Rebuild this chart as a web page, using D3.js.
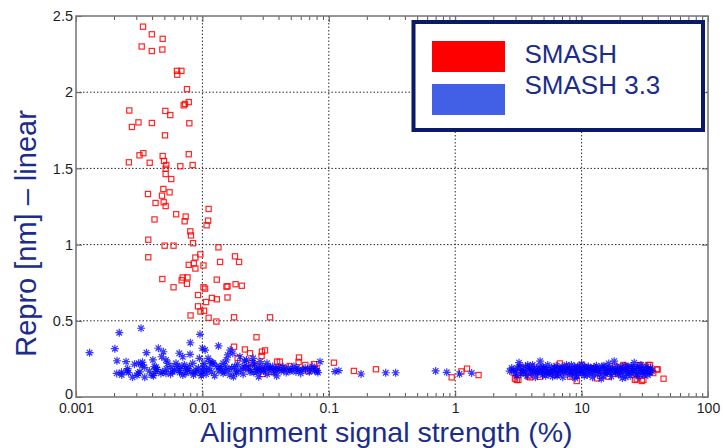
<!DOCTYPE html>
<html>
<head>
<meta charset="utf-8">
<script src="https://cdn.jsdelivr.net/npm/d3@7"></script>
<style>
  html, body { margin: 0; padding: 0; background: #ffffff; }
  svg { display: block; }
</style>
</head>
<body>
<svg id="chart" width="723" height="448"></svg>
<script>
// Axis ticks and labels
const xTicks = [0.001, 0.01, 0.1, 1, 10, 100];
const xTickLabels = ["0.001", "0.01", "0.1", "1", "10", "100"];
const yTicks = [0, 0.5, 1, 1.5, 2, 2.5];
const yTickLabels = ["0", "0.5", "1", "1.5", "2", "2.5"];
const xTitle = "Alignment signal strength (%)";
const yTitle = "Repro [nm] \u2013 linear";

// Series
const seriesNames = ["SMASH", "SMASH 3.3"];
const seriesColors = ["#ff0000", "#0000ff"];
const legendSwatchColors = ["#ff0000", "#4160e6"];

// SMASH: [signal strength %, repro nm]
const smashPoints = [
  [0.00339,2.43],[0.00398,2.38],[0.00485,2.35],[0.00331,2.30],[0.00398,2.27],[0.00482,2.28],
  [0.00629,2.14],[0.00682,2.14],[0.00632,2.115],[0.00755,2.02],[0.0078,1.935],[0.00711,1.914],
  [0.00728,1.923],[0.00264,1.88],[0.00509,1.877],[0.00557,1.85],[0.00277,1.772],[0.00312,1.802],
  [0.00398,1.798],[0.00788,1.796],[0.00506,1.717],[0.00341,1.60],[0.00318,1.586],[0.00262,1.54],
  [0.00383,1.537],[0.00485,1.581],[0.00497,1.549],[0.00518,1.522],[0.00512,1.498],[0.00669,1.514],
  [0.0078,1.593],[0.00837,1.522],[0.00512,1.463],[0.00567,1.43],[0.00371,1.332],[0.00491,1.365],
  [0.00479,1.321],[0.0055,1.343],[0.00426,1.273],[0.00494,1.278],[0.00512,1.253],[0.0112,1.234],
  [0.0062,1.199],[0.00737,1.184],[0.00418,1.165],[0.00724,1.153],[0.0111,1.157],[0.0108,1.127],
  [0.00802,1.087],[0.00812,1.06],[0.00843,1.009],[0.00373,1.032],[0.00503,0.993],[0.00591,0.993],
  [0.00373,0.917],[0.00963,0.936],[0.0088,0.915],[0.00855,0.877],[0.0078,0.867],[0.0088,0.843],
  [0.0102,0.863],[0.0134,0.982],[0.0138,0.886],[0.0181,0.923],[0.0195,0.886],[0.00482,0.774],
  [0.00591,0.72],[0.00699,0.784],[0.00686,0.766],[0.00755,0.743],[0.00762,0.785],[0.013,0.77],
  [0.0102,0.72],[0.0105,0.711],[0.0155,0.724],[0.0158,0.727],[0.0183,0.74],[0.0205,0.73],
  [0.0158,0.653],[0.00923,0.669],[0.0107,0.623],[0.0119,0.65],[0.013,0.641],[0.00923,0.595],
  [0.00966,0.561],[0.0103,0.566],[0.00806,0.535],[0.0112,0.52],[0.0129,0.495],[0.0178,0.523],
  [0.0343,0.523],[0.0268,0.392],[0.0178,0.33],[0.0217,0.312],[0.0238,0.287],[0.0296,0.297],
  [0.0313,0.306],[0.0294,0.269],[0.0581,0.259],[0.0577,0.23],[0.0652,0.21],[0.0688,0.169],
  [0.0764,0.215],[0.08,0.188],[0.1098,0.225],[0.158,0.171],[0.236,0.182],[0.938,0.129],
  [1.12,0.168],[1.24,0.186],[1.53,0.144],
  [0.027,0.2],[0.039,0.232],[0.041,0.232],[0.043,0.19],[0.049,0.203],[0.035,0.164],
  [0.030,0.151],[0.0221,0.19],[0.019,0.256],[0.0245,0.223],
  [2.97,0.12],[3.07,0.112],[3.16,0.112],[3.46,0.157],[3.79,0.135],[3.91,0.129],[4.03,0.199],
  [4.69,0.133],[5.13,0.177],[6.16,0.144],[6.75,0.22],[7.62,0.199],[7.85,0.177],[8.09,0.133],
  [8.6,0.166],[9.15,0.105],[10.0,0.21],[11.6,0.19],[13.2,0.122],[16.3,0.133],[18.4,0.199],
  [21.4,0.21],[22.0,0.2],[26.4,0.112],[27.3,0.116],[29.0,0.21],[29.9,0.105],[30.8,0.112],
  [33.7,0.21],[34.8,0.21],[34.8,0.166],[36.9,0.157],[39.3,0.182],[40.0,0.18],[44.5,0.12],
  [5.5,0.165],[9.5,0.18],[12.5,0.185],[14.5,0.17],[19.5,0.15],[24,0.19],[3.3,0.19],
  [6.4,0.185],[2.9,0.16]
];

// SMASH 3.3: [signal strength %, repro nm]
const smash33Points = [
  [0.00128,0.291],[0.0022,0.422],[0.00327,0.451],[0.00203,0.317],[0.00211,0.238],[0.00249,0.232],
  [0.00229,0.162],[0.00253,0.171],[0.00256,0.186],[0.00304,0.142],[0.0031,0.156],[0.0029,0.215],
  [0.00313,0.221],[0.00336,0.228],[0.00347,0.195],[0.00333,0.21],[0.00361,0.291],[0.00406,0.243],
  [0.00417,0.199],[0.00429,0.166],[0.004,0.144],[0.00448,0.32],[0.00491,0.297],[0.00476,0.264],
  [0.00515,0.243],[0.00532,0.221],[0.00564,0.199],[0.00582,0.166],[0.00485,0.166],[0.00515,0.156],
  [0.00656,0.287],[0.00699,0.264],[0.00798,0.28],[0.00802,0.356],[0.00957,0.411],[0.00999,0.32],
  [0.00618,0.221],[0.00677,0.199],[0.00741,0.188],[0.00812,0.166],[0.0089,0.177],[0.00975,0.156],
  [0.00947,0.254],[0.0103,0.221],[0.00838,0.221],[0.00656,0.177],[0.00741,0.156],[0.0134,0.335],
  [0.0105,0.308],[0.0166,0.308],[0.0174,0.287],[0.0111,0.254],[0.0115,0.232],[0.0122,0.221],
  [0.0102,0.199],[0.0108,0.177],[0.0138,0.199],[0.0146,0.221],[0.0155,0.243],[0.0159,0.276],
  [0.0146,0.156],[0.0165,0.144],[0.0176,0.133],[0.0186,0.156],[0.0198,0.264],[0.0223,0.243],
  [0.0252,0.254],[0.0286,0.232],[0.0324,0.221],[0.0209,0.197],[0.0238,0.164],[0.027,0.184],
  [0.0304,0.171],[0.0343,0.19],[0.0389,0.177],[0.0434,0.197],[0.0493,0.171],[0.056,0.19],
  [0.0624,0.177],[0.0707,0.184],[0.0807,0.171],[0.0279,0.133],[0.0387,0.138],[0.0852,0.232],
  [0.112,0.167],[0.12,0.173],[0.18,0.151],[0.282,0.159],[0.338,0.159],[0.70,0.171],
  [0.857,0.162],[1.08,0.151],[1.35,0.157],[0.0777,0.171],
  [0.0044,0.18],[0.0047,0.155],[0.0052,0.185],[0.0056,0.15],[0.006,0.175],[0.0063,0.2],
  [0.0066,0.16],[0.007,0.145],[0.0072,0.21],[0.0076,0.175],[0.0079,0.2],[0.0085,0.145],
  [0.0088,0.16],[0.0093,0.19],[0.0098,0.14],[0.0101,0.17],[0.0107,0.15],[0.0113,0.19],
  [0.0118,0.165],[0.0125,0.14],[0.0129,0.2],[0.0135,0.17],[0.014,0.185],[0.015,0.165],
  [0.0152,0.2],[0.016,0.18],[0.017,0.19],[0.018,0.2],[0.0185,0.17],[0.019,0.215],
  [0.02,0.175],[0.021,0.15],[0.022,0.19],[0.023,0.2],[0.024,0.18],[0.0255,0.16],
  [0.026,0.21],[0.027,0.165],[0.028,0.19],[0.029,0.17],[0.03,0.2],[0.031,0.18],
  [0.0325,0.15],[0.033,0.195],[0.035,0.175],[0.036,0.2],[0.037,0.16],[0.038,0.185],
  [0.04,0.195],[0.042,0.17],[0.044,0.18],[0.046,0.16],[0.048,0.19],[0.051,0.175],
  [0.053,0.2],[0.055,0.165],[0.058,0.18],[0.06,0.155],[0.065,0.19],[0.07,0.165],
  [0.074,0.2],[0.078,0.185],[0.082,0.16],[0.0215,0.235],[0.025,0.225],[0.012,0.225],
  [0.0021,0.155],[0.0023,0.145],[0.0026,0.16],[0.0028,0.13],[0.0032,0.165],[0.0035,0.13],
  [0.0038,0.17],[0.0041,0.14],[0.0043,0.195],
  [2.7,0.17],[2.9,0.175],[3.0,0.16],[3.1,0.19],[3.2,0.225],[3.3,0.15],[3.4,0.18],[3.5,0.165],
  [3.6,0.2],[3.7,0.14],[3.8,0.175],[3.9,0.19],[4.0,0.155],[4.1,0.21],[4.2,0.17],[4.3,0.13],
  [4.4,0.185],[4.5,0.16],[4.6,0.2],[4.7,0.235],[4.8,0.175],[4.9,0.145],[5.0,0.19],[5.1,0.165],
  [5.3,0.18],[5.4,0.21],[5.5,0.15],[5.6,0.17],[5.8,0.195],[5.9,0.135],[6.0,0.175],[6.2,0.16],
  [6.3,0.205],[6.5,0.185],[6.6,0.15],[6.8,0.17],[7.0,0.2],[7.1,0.13],[7.3,0.18],[7.5,0.16],
  [7.7,0.19],[7.9,0.175],[8.1,0.145],[8.3,0.21],[8.5,0.165],[8.7,0.185],[8.9,0.125],[9.1,0.17],
  [9.3,0.2],[9.5,0.155],[9.8,0.18],[10.0,0.215],[10.3,0.165],[10.5,0.14],[10.8,0.19],[11.0,0.175],
  [11.3,0.2],[11.6,0.155],[11.9,0.18],[12.2,0.13],[12.5,0.195],[12.8,0.17],[13.1,0.205],[13.4,0.15],
  [13.8,0.185],[14.1,0.165],[14.5,0.2],[14.9,0.14],[15.2,0.175],[15.6,0.19],[16.0,0.16],[16.4,0.22],
  [16.8,0.175],[17.2,0.135],[17.7,0.185],[18.1,0.235],[18.6,0.165],[19.0,0.2],[19.5,0.15],[20.0,0.18],
  [20.5,0.195],[21.0,0.125],[21.5,0.17],[22.0,0.205],[22.6,0.155],[23.1,0.185],[23.7,0.165],[24.3,0.14],
  [24.9,0.2],[25.5,0.175],[26.1,0.225],[26.8,0.16],[27.4,0.19],[28.1,0.135],[28.8,0.175],[29.5,0.21],
  [30.2,0.155],[31.0,0.185],[31.8,0.165],[32.6,0.2],[33.4,0.145],[34.2,0.175],[35.0,0.19],[36.0,0.17],
  [2.8,0.19],[3.05,0.14],[3.25,0.2],[3.45,0.165],[3.75,0.21],[4.05,0.18],[4.35,0.16],[4.65,0.17],
  [4.95,0.2],[5.2,0.14],[5.7,0.165],[6.1,0.19],[6.4,0.14],[6.9,0.185],[7.2,0.165],[7.6,0.21],
  [8.0,0.18],[8.4,0.155],[8.8,0.2],[9.2,0.14],[9.6,0.19],[10.1,0.16],[10.6,0.2],[11.1,0.145],
  [11.7,0.185],[12.3,0.16],[12.9,0.19],[13.6,0.175],[14.3,0.12],[15.0,0.205],[15.8,0.16],[16.6,0.19],
  [17.5,0.16],[18.3,0.18],[19.2,0.17],[20.2,0.155],[21.2,0.185],[22.3,0.13],[23.4,0.2],[24.6,0.16],
  [25.8,0.19],[27.1,0.15],[28.4,0.2],[29.8,0.17],[31.3,0.145],[32.9,0.18],[34.6,0.16]
];

const font = "'Liberation Sans', Arial, Helvetica, sans-serif";
const navy = "#1b2d8a";

const svg = d3.select("#chart");
const x = d3.scaleLog().domain([0.001, 100]).range([76, 708]);
const y = d3.scaleLinear().domain([0, 2.5]).range([397, 16]);
const [x0, x1] = x.range();
const [y0, y1] = y.range();

// minor ticks on the log axis: 2..9 within each decade
const minorTicks = [];
xTicks.slice(0, -1).forEach(d => { for (let k = 2; k <= 9; k++) minorTicks.push(d * k); });

// grid
const grid = svg.append("g").attr("stroke", "#2a2a2a").attr("stroke-width", 1)
  .attr("stroke-dasharray", "1.5,2");
grid.selectAll("line.gx").data(xTicks.slice(1, -1)).join("line")
  .attr("x1", d => x(d)).attr("x2", d => x(d)).attr("y1", y1).attr("y2", y0);
grid.selectAll("line.gy").data(yTicks.slice(1, -1)).join("line")
  .attr("x1", x0).attr("x2", x1).attr("y1", d => y(d)).attr("y2", d => y(d));

// markers
const plot = svg.append("g");
plot.append("g").selectAll("rect").data(smashPoints).join("rect")
  .attr("x", d => x(d[0]) - 2.6).attr("y", d => y(d[1]) - 2.6)
  .attr("width", 5.2).attr("height", 5.2)
  .attr("fill", "none").attr("stroke", seriesColors[0]).attr("stroke-width", 1.2)
  .attr("stroke-opacity", 0.85);

const starPath = "M-4,0H4M0,-4V4M-2.8,-2.8L2.8,2.8M-2.8,2.8L2.8,-2.8";
plot.append("g").selectAll("path").data(smash33Points).join("path")
  .attr("transform", d => `translate(${x(d[0])},${y(d[1])})`)
  .attr("d", starPath)
  .attr("fill", "none").attr("stroke", seriesColors[1]).attr("stroke-width", 1.2)
  .attr("stroke-opacity", 0.78);

// axes
function styleAxis(g) {
  g.select(".domain").remove();
  g.selectAll(".tick line").attr("stroke", "#555").attr("stroke-width", 1);
  g.selectAll("text").attr("font-family", font).attr("font-size", "14px").attr("fill", "#1e1e1e");
}
svg.append("g").attr("transform", `translate(0,${y0})`)
  .call(d3.axisBottom(x).tickValues(xTicks).tickFormat((d, i) => xTickLabels[i])
    .tickSize(-6).tickPadding(6)).call(styleAxis);
svg.append("g").attr("transform", `translate(0,${y0})`)
  .call(d3.axisBottom(x).tickValues(minorTicks).tickFormat("").tickSize(-4)).call(styleAxis);
svg.append("g").attr("transform", `translate(0,${y1})`)
  .call(d3.axisTop(x).tickValues(xTicks).tickFormat("").tickSize(-6)).call(styleAxis);
svg.append("g").attr("transform", `translate(0,${y1})`)
  .call(d3.axisTop(x).tickValues(minorTicks).tickFormat("").tickSize(-4)).call(styleAxis);
svg.append("g").attr("transform", `translate(${x0},0)`)
  .call(d3.axisLeft(y).tickValues(yTicks).tickFormat((d, i) => yTickLabels[i])
    .tickSize(-6).tickPadding(3)).call(styleAxis)
  .selectAll(".tick text").attr("font-size", "14.5px")
  .attr("dy", (d, i) => i === 0 ? "0.1em" : "0.32em");
svg.append("g").attr("transform", `translate(${x1},0)`)
  .call(d3.axisRight(y).tickValues(yTicks).tickFormat("").tickSize(-6)).call(styleAxis);

// frame
svg.append("rect").attr("x", x0).attr("y", y1).attr("width", x1 - x0).attr("height", y0 - y1)
  .attr("fill", "none").attr("stroke", "#7a7a7a").attr("stroke-width", 1.6);

// titles
svg.append("text").attr("x", 386.5).attr("y", 442).attr("text-anchor", "middle")
  .attr("font-family", font).attr("font-size", "28.5px").attr("fill", navy).text(xTitle);
svg.append("text").attr("transform", "translate(36,233.5) rotate(-90)").attr("text-anchor", "middle")
  .attr("font-family", font).attr("font-size", "29px").attr("fill", navy).text(yTitle);

// legend
const lg = svg.append("g");
lg.append("rect").attr("x", 413.5).attr("y", 22).attr("width", 289.5).attr("height", 108)
  .attr("fill", "#ffffff").attr("stroke", "#0b1a66").attr("stroke-width", 4);
seriesNames.forEach((name, i) => {
  lg.append("rect").attr("x", 432).attr("y", 41 + i * 43).attr("width", 73).attr("height", 31)
    .attr("fill", legendSwatchColors[i]);
  lg.append("text").attr("x", 524.5).attr("y", 62.5 + i * 31)
    .attr("font-family", font).attr("font-size", "26px").attr("fill", navy).text(name);
});
</script>
</body>
</html>
